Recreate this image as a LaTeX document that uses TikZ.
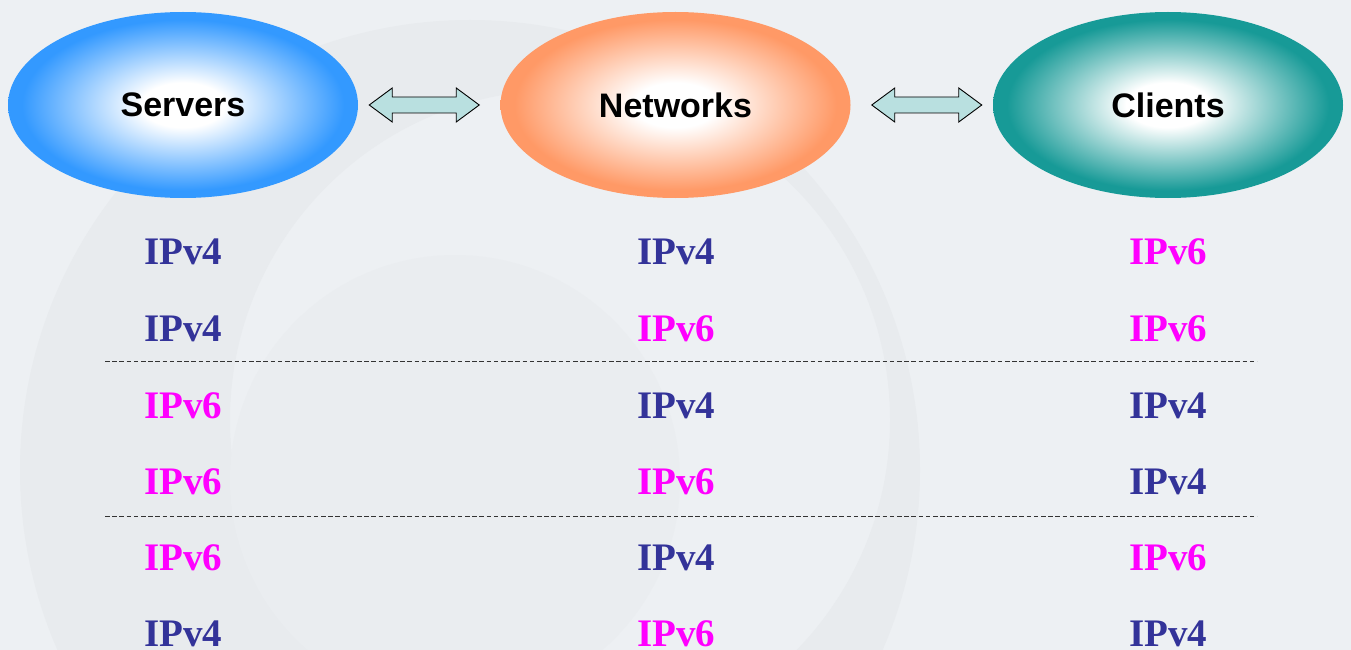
\documentclass[tikz,border=0pt]{standalone}
\usepackage{fontspec}
\setmainfont{Liberation Serif}
\newfontfamily\arialf{Liberation Sans}
\usetikzlibrary{shapes.geometric,calc}
\definecolor{bgcol}{HTML}{EDF0F3}
\definecolor{wmcol}{HTML}{E8EBEE}
\definecolor{srvblue}{HTML}{3399FF}
\definecolor{netorange}{HTML}{FF9966}
\definecolor{clteal}{HTML}{179A97}
\definecolor{arrowfill}{HTML}{B9E0E0}
\definecolor{ipfour}{HTML}{333399}
\definecolor{ipsix}{HTML}{FF00FF}
\pgfdeclareradialshading{srvshade}{\pgfpointorigin}{color(0bp)=(white); color(6bp)=(white); color(23bp)=(srvblue); color(50bp)=(srvblue)}
\pgfdeclareradialshading{netshade}{\pgfpointorigin}{color(0bp)=(white); color(6bp)=(white); color(23bp)=(netorange); color(50bp)=(netorange)}
\pgfdeclareradialshading{clshade}{\pgfpointorigin}{color(0bp)=(white); color(6bp)=(white); color(23bp)=(clteal); color(50bp)=(clteal)}
\tikzset{
  blob/.style={ellipse, minimum width=350, minimum height=186, inner sep=0pt,
    font=\arialf\bfseries\fontsize{34}{36}\selectfont, text=black},
  blockarrow/.style={draw=black, line width=0.9pt, fill=arrowfill, line join=miter},
  ip/.style={anchor=base, inner sep=0pt, font=\bfseries\fontsize{39}{41}\selectfont},
  vfour/.style={ip, text=ipfour},
  vsix/.style={ip, text=ipsix},
  sep/.style={draw=black!80, line width=1pt, dash pattern=on 4.5pt off 2.7pt}
}
\begin{document}
\begin{tikzpicture}[x=1pt,y=-1pt]
\useasboundingbox (0,0) rectangle (1351,650);
\fill[bgcol] (0,0) rectangle (1351,650);
% faint watermark
\begin{scope}
\clip (0,0) rectangle (1351,650);
\fill[wmcol, even odd rule] (470,470) circle (450) (560,420) circle (330);
\fill[wmcol!60!bgcol] (455,480) circle (225);
\end{scope}
% ellipses
\node[blob, shading=srvshade] (srv) at (183,105) {Servers};
\node[blob, shading=netshade] (net) at (675.5,105) {Networks};
\node[blob, shading=clshade] (cli) at (1168,105) {Clients};
% double arrows
\coordinate (a1) at ($(srv.east)!0.5!(net.west)+(-5,0)$);
\coordinate (a2) at ($(net.east)!0.5!(cli.west)+(5,0)$);
\foreach \c in {a1,a2}{
  \draw[blockarrow] (\c) ++(-55,0) -- ++(23,-17) -- ++(0,9) -- ++(64,0) -- ++(0,-9)
    -- ++(23,17) -- ++(-23,17) -- ++(0,-9) -- ++(-64,0) -- ++(0,9) -- cycle;
}
% rows
\node[vfour] (r1a) at (183,264) {IPv4};
\node[vfour] (r1b) at (676,264) {IPv4};
\node[vsix]  (r1c) at (1168,264) {IPv6};
\node[vfour] (r2a) at (183,341) {IPv4};
\node[vsix]  (r2b) at (676,341) {IPv6};
\node[vsix]  (r2c) at (1168,341) {IPv6};
\node[vsix]  (r3a) at (183,418) {IPv6};
\node[vfour] (r3b) at (676,418) {IPv4};
\node[vfour] (r3c) at (1168,418) {IPv4};
\node[vsix]  (r4a) at (183,494) {IPv6};
\node[vsix]  (r4b) at (676,494) {IPv6};
\node[vfour] (r4c) at (1168,494) {IPv4};
\node[vsix]  (r5a) at (183,570) {IPv6};
\node[vfour] (r5b) at (676,570) {IPv4};
\node[vsix]  (r5c) at (1168,570) {IPv6};
\node[vfour] (r6a) at (183,646) {IPv4};
\node[vsix]  (r6b) at (676,646) {IPv6};
\node[vfour] (r6c) at (1168,646) {IPv4};
% separators
\draw[sep] (105,361) -- (1257,361);
\draw[sep] (105,516) -- (1257,516);
\end{tikzpicture}
\end{document}
